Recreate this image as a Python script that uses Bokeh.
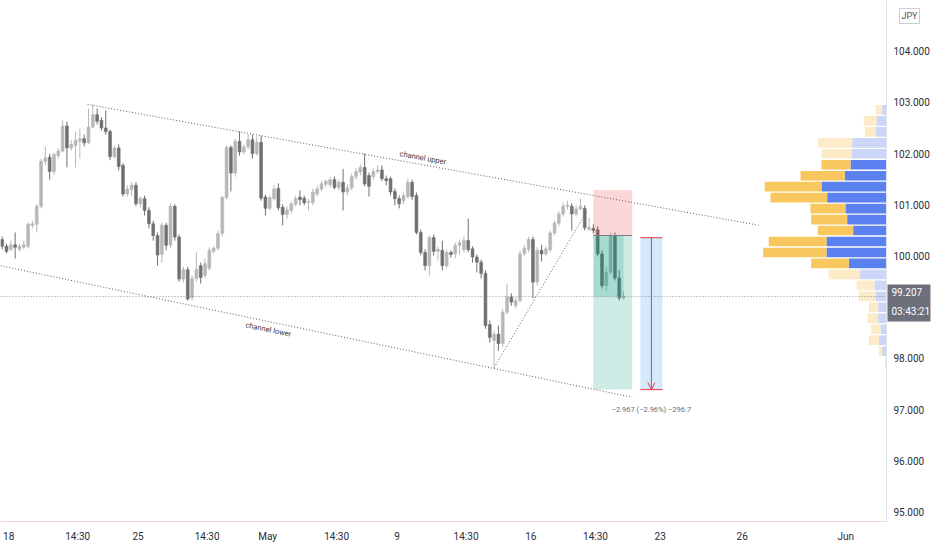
import math
from bokeh.plotting import figure
from bokeh.models import (FixedTicker, PrintfTickFormatter, Arrow, OpenHead,
                          ColumnDataSource, Range1d)
from bokeh.core.properties import value
from bokeh.embed import file_html
from bokeh.resources import INLINE

# ---------------- data (4H candles, bar index 0..144) ----------------
opens = [100.32, 100.19, 100.13, 100.22, 100.13, 100.17, 100.19, 100.60, 100.62, 100.97,
         101.85, 101.93, 101.65, 101.96, 102.05, 102.54, 102.11, 102.16, 102.24, 102.29,
         102.21, 102.52, 102.76, 102.65, 102.50, 102.43, 101.94, 102.11, 101.77, 101.21,
         101.30, 101.38, 101.02, 101.12, 100.89, 100.63, 100.40, 100.03, 100.60, 100.21,
         100.97, 100.37, 99.55, 99.73, 99.19, 99.56, 99.81, 99.62, 99.76, 100.09,
         100.15, 100.44, 101.14, 102.12, 101.62, 102.24, 102.03, 102.13, 102.27, 102.00,
         102.22, 101.15, 100.93, 101.12, 101.32, 100.95, 100.81, 100.89, 101.01, 101.15,
         101.13, 101.04, 101.04, 101.21, 101.31, 101.40, 101.39, 101.49, 101.34, 101.44,
         101.25, 101.33, 101.55, 101.64, 101.73, 101.57, 101.55, 101.65, 101.68, 101.51,
         101.51, 101.26, 101.12, 101.08, 101.16, 101.44, 101.18, 100.46, 100.07, 99.81,
         100.36, 100.09, 100.11, 99.81, 100.07, 100.04, 100.21, 100.13, 100.30, 100.14,
         99.98, 99.88, 99.66, 98.66, 98.35, 98.47, 98.29, 98.90, 99.20, 99.03,
         99.13, 100.05, 100.13, 100.32, 99.49, 100.11, 100.04, 100.12, 100.45, 100.64,
         100.82, 100.97, 100.97, 100.82, 100.92, 100.93, 100.52, 100.54, 100.51, 100.04,
         99.42, 99.68, 100.40, 99.57, 99.18]
highs = [100.38, 100.24, 100.30, 100.46, 100.24, 100.30, 100.65, 100.69, 101.01, 101.90,
         102.14, 102.00, 102.02, 102.10, 102.65, 102.63, 102.26, 102.43, 102.49, 102.37,
         102.88, 102.96, 102.88, 102.71, 102.84, 102.47, 102.16, 102.18, 101.81, 101.38,
         101.44, 101.44, 101.16, 101.18, 100.95, 100.69, 100.46, 100.65, 100.65, 101.03,
         101.01, 100.42, 99.79, 99.79, 99.62, 100.07, 99.87, 99.95, 100.17, 100.19,
         100.50, 101.18, 102.16, 102.16, 102.29, 102.43, 102.18, 102.37, 102.37, 102.34,
         102.35, 101.20, 101.18, 101.38, 101.42, 101.01, 100.97, 101.06, 101.18, 101.28,
         101.18, 101.12, 101.32, 101.38, 101.46, 101.49, 101.55, 101.55, 101.49, 101.70,
         101.40, 101.61, 101.71, 101.79, 102.00, 101.63, 101.71, 101.77, 101.77, 101.57,
         101.55, 101.32, 101.18, 101.24, 101.51, 101.49, 101.24, 100.52, 100.13, 100.40,
         100.42, 100.19, 100.30, 100.13, 100.11, 100.26, 100.32, 100.38, 100.73, 100.19,
         100.03, 99.93, 99.72, 98.74, 98.54, 98.64, 98.97, 99.46, 99.27, 99.19,
         100.11, 100.22, 100.38, 100.38, 100.17, 100.22, 100.19, 100.50, 100.69, 100.87,
         101.04, 101.08, 101.03, 100.99, 101.12, 100.99, 100.75, 100.62, 100.58, 100.11,
         99.79, 100.46, 100.46, 99.72, 99.31]
lows = [100.13, 100.05, 100.09, 99.95, 100.09, 100.13, 100.15, 100.54, 100.46, 100.93,
        101.77, 101.49, 101.59, 101.90, 102.02, 101.73, 102.06, 101.73, 101.90, 102.14,
        102.18, 102.49, 102.57, 102.45, 102.37, 101.87, 101.90, 101.67, 101.16, 101.16,
        101.18, 100.97, 100.95, 100.79, 100.54, 100.30, 99.81, 99.87, 100.11, 100.15,
        100.30, 99.50, 99.48, 99.13, 99.13, 99.50, 99.46, 99.56, 99.72, 100.05,
        100.11, 100.38, 101.10, 101.26, 101.55, 101.96, 101.98, 102.08, 101.90, 101.96,
        101.08, 100.79, 100.89, 101.08, 100.89, 100.60, 100.73, 100.83, 100.97, 100.99,
        100.99, 100.89, 100.99, 101.16, 101.26, 101.34, 101.34, 101.30, 101.28, 100.89,
        101.18, 101.28, 101.49, 101.57, 101.36, 101.16, 101.49, 101.61, 101.46, 101.38,
        101.18, 100.99, 100.93, 101.01, 101.12, 101.10, 100.42, 100.01, 99.72, 99.62,
        100.01, 99.91, 99.72, 99.76, 99.97, 99.95, 100.03, 100.07, 100.07, 99.87,
        99.68, 99.56, 98.58, 98.31, 97.82, 98.15, 98.23, 98.86, 99.03, 98.97,
        99.09, 99.99, 100.07, 99.17, 99.42, 99.89, 99.99, 100.07, 100.40, 100.58,
        100.77, 100.91, 100.50, 100.77, 100.89, 100.50, 100.48, 100.44, 99.99, 99.37,
        99.31, 99.64, 99.52, 99.13, 99.15]
closes = [100.19, 100.09, 100.22, 100.17, 100.19, 100.22, 100.62, 100.63, 100.97, 101.85,
          101.92, 101.65, 101.98, 102.05, 102.54, 102.11, 102.18, 102.26, 102.29, 102.21,
          102.52, 102.76, 102.63, 102.50, 102.43, 101.94, 102.11, 101.75, 101.21, 101.31,
          101.38, 101.02, 101.12, 100.89, 100.63, 100.40, 100.02, 100.60, 100.21, 100.97,
          100.37, 99.55, 99.73, 99.16, 99.56, 99.74, 99.58, 99.85, 100.11, 100.15,
          100.44, 101.14, 102.12, 101.62, 102.24, 102.03, 102.13, 102.27, 102.00, 102.22,
          101.13, 100.93, 101.14, 101.31, 100.94, 100.81, 100.90, 101.02, 101.12, 101.10,
          101.04, 101.06, 101.25, 101.31, 101.41, 101.46, 101.49, 101.34, 101.44, 101.25,
          101.33, 101.55, 101.65, 101.73, 101.41, 101.36, 101.65, 101.68, 101.51, 101.47,
          101.25, 101.12, 101.02, 101.18, 101.44, 101.16, 100.46, 100.07, 99.81, 100.36,
          100.09, 100.13, 99.81, 100.07, 100.03, 100.21, 100.26, 100.30, 100.12, 99.98,
          99.88, 99.66, 98.64, 98.41, 98.47, 98.29, 98.90, 99.20, 99.10, 99.13,
          100.04, 100.15, 100.32, 99.49, 100.11, 100.04, 100.14, 100.45, 100.64, 100.82,
          100.97, 100.99, 100.82, 100.92, 100.97, 100.55, 100.56, 100.50, 100.04, 99.42,
          99.68, 100.40, 99.57, 99.18, 99.207]

last_price = 99.207
countdown = "03:43:21"
currency = "JPY"

# time axis (bar index) labels
time_ticks = [1.5, 17.5, 31.5, 47.5, 61.5, 77.5, 91.5, 107.5, 122.5, 137.5, 152.5, 171.5, 195.5]
time_labels = ["18", "14:30", "25", "14:30", "May", "14:30", "9", "14:30", "16", "14:30", "23", "26", "Jun"]
price_ticks = [95, 96, 97, 98, 100, 101, 102, 103, 104]

# drawings: (bar, price) anchors
channel_upper_t = [19.8, 175.3]
channel_upper_p = [102.96, 100.60]
channel_lower_t = [-0.4, 146.0]
channel_lower_p = [99.81, 97.24]
trend_t = [114.0, 135.6]
trend_p = [97.82, 100.89]
channel_label_text = ["channel upper", "channel lower"]
channel_label_t = [97.5, 61.7]

# short position tool
pos_t = [137.0, 146.0]
pos_entry, pos_stop, pos_target = 100.40, 101.29, 97.39
pos_current_bar = 144

# price range measure
meas_t = [147.9, 153.0]
meas_top, meas_bottom = 100.357, 97.39
meas_text = "\u22122.967 (\u22122.96%) \u2212296.7"

# volume profile, 24 rows bottom -> top (up = blue, down = yellow)
vp_up = [1, 4.3, 7.7, 6, 8.3, 8.3, 11, 12, 26.7, 37.7, 60, 60, 33.3, 39.3, 41, 59.3,
         65, 41.7, 36, 35, 34.3, 11, 10, 4.3]
vp_down = [0, 3.4, 10, 9.3, 11, 9.4, 16.7, 18, 31, 37.6, 63.3, 57.7, 35.4, 36, 35, 56.7,
           56.7, 44.3, 29, 30, 34, 10.7, 12.7, 6.7]
vp_value_area = [False] * 9 + [True] * 10 + [False] * 5

# ---------------- layout / styling ----------------
FRAME_W, FRAME_H = 932, 521          # price scale lives inside the frame (right strip)
BOTTOM = 29
PX_PER_BAR = 4.315
X0 = -0.394                          # bar position at the left edge
X_AXIS = 204.93                      # bar position of the price-scale border
X_END = X0 + FRAME_W / PX_PER_BAR
Y0, Y1 = 94.814, 104.990
PX_PER_PRICE = FRAME_H / (Y1 - Y0)
FONT = "Roboto"
UP_C, DN_C = "#b7b7b7", "#707070"
TXT = "#2a2e39"


def dpx(px):      # screen px -> price units
    return px / PX_PER_PRICE


def bpx(px):      # screen px -> bar units
    return px / PX_PER_BAR


p = figure(frame_width=FRAME_W, frame_height=FRAME_H,
           x_range=Range1d(X0, X_END), y_range=Range1d(Y0, Y1),
           output_backend="svg", toolbar_location=None,
           x_axis_location="below", y_axis_location="right",
           min_border_left=0, min_border_right=0,
           min_border_top=0, min_border_bottom=BOTTOM)
p.outline_line_color = None
p.xgrid.grid_line_color = None
p.ygrid.grid_line_color = None
p.background_fill_color = "white"
p.border_fill_color = "white"

xa = p.xaxis[0]
xa.ticker = FixedTicker(ticks=time_ticks)
xa.major_label_overrides = dict(zip(time_ticks, time_labels))
xa.bounds = (X0, X_AXIS)
xa.major_tick_line_color = None
xa.minor_tick_line_color = None
xa.major_tick_out = 0
xa.major_tick_in = 0
xa.minor_tick_out = 0
xa.axis_line_color = "#f6d5d9"
xa.major_label_standoff = 9
xa.major_label_text_font = FONT
xa.major_label_text_font_size = "10px"
xa.major_label_text_color = TXT

ya = p.yaxis[0]
ya.fixed_location = X_AXIS
ya.ticker = FixedTicker(ticks=price_ticks)
ya.formatter = PrintfTickFormatter(format="%.3f")
ya.major_tick_line_color = None
ya.minor_tick_line_color = None
ya.major_tick_out = 0
ya.major_tick_in = 0
ya.minor_tick_out = 0
ya.axis_line_color = "#e0e3eb"
ya.major_label_standoff = 7
ya.major_label_text_font = FONT
ya.major_label_text_font_size = "10px"
ya.major_label_text_color = TXT

# ---------------- candles ----------------
n = len(opens)
idx = list(range(n))
colors = [UP_C if c >= o else DN_C for o, c in zip(opens, closes)]
src = ColumnDataSource(dict(
    x=idx, o=opens, h=highs, l=lows, c=closes,
    top=[max(o, c) for o, c in zip(opens, closes)],
    bottom=[min(o, c) for o, c in zip(opens, closes)],
    color=colors))
p.segment(x0="x", y0="l", x1="x", y1="h", line_color="color", line_width=1, source=src)
p.vbar(x="x", width=0.66, top="top", bottom="bottom", fill_color="color",
       line_color="color", line_width=0.6, source=src)

# ---------------- short position tool ----------------
p.quad(left=[pos_t[0]], right=[pos_t[1]], bottom=[pos_entry], top=[pos_stop],
       fill_color="#f23645", fill_alpha=0.2, line_color=None)
p.quad(left=[pos_t[0]], right=[pos_t[1]], bottom=[pos_target], top=[pos_entry],
       fill_color="#089981", fill_alpha=0.2, line_color=None)
p.quad(left=[pos_t[0]], right=[pos_current_bar], bottom=[last_price], top=[pos_entry],
       fill_color="#089981", fill_alpha=0.2, line_color=None)
p.segment(x0=[pos_t[0]], y0=[pos_entry], x1=[pos_t[1]], y1=[pos_entry],
          line_color="#787b86", line_width=1)

# ---------------- measure tool ----------------
m_mid = (meas_t[0] + meas_t[1]) / 2
p.quad(left=[meas_t[0]], right=[meas_t[1]], bottom=[meas_bottom], top=[meas_top],
       fill_color="#2196f3", fill_alpha=0.2, line_color=None)
p.segment(x0=[meas_t[0], meas_t[0]], y0=[meas_top, meas_bottom],
          x1=[meas_t[1], meas_t[1]], y1=[meas_top, meas_bottom],
          line_color="#f23645", line_width=1)
p.add_layout(Arrow(end=OpenHead(size=7, line_color="#f23645", line_width=1),
                   x_start=m_mid, y_start=meas_top, x_end=m_mid, y_end=meas_bottom,
                   line_color="#f23645", line_width=1))
p.text(x=[m_mid], y=[meas_bottom - dpx(20)], text=[meas_text],
       text_font=value(FONT), text_font_size="7.5px", text_color="#6a6d78",
       text_align="center", text_baseline="middle")

# ---------------- channel & trend lines ----------------
DOT = "#5d5d5d"
p.line(channel_upper_t, channel_upper_p, line_color=DOT, line_dash="1 2", line_width=1)
p.line(channel_lower_t, channel_lower_p, line_color=DOT, line_dash="1 2", line_width=1)
p.line(trend_t, trend_p, line_color=DOT, line_dash="1 2", line_width=1)


def line_at(ts, ps, t):
    return ps[0] + (ps[1] - ps[0]) * (t - ts[0]) / (ts[1] - ts[0])


def screen_angle(ts, ps):
    return math.atan2((ps[1] - ps[0]) * PX_PER_PRICE, (ts[1] - ts[0]) * PX_PER_BAR)


lab_x = channel_label_t
lab_y = [line_at(channel_upper_t, channel_upper_p, lab_x[0]) + dpx(7),
         line_at(channel_lower_t, channel_lower_p, lab_x[1]) - dpx(8)]
lab_a = [screen_angle(channel_upper_t, channel_upper_p),
         screen_angle(channel_lower_t, channel_lower_p)]
p.text(x=lab_x, y=lab_y, text=channel_label_text, angle=lab_a,
       text_font=value(FONT), text_font_size="7.5px", text_color="#3c3c3c",
       text_align="center", text_baseline="middle")

# ---------------- volume profile ----------------
rows = len(vp_up)
vlo, vhi = min(lows), max(highs)
rh = (vhi - vlo) / rows
centers = [vlo + (i + 0.5) * rh for i in range(rows)]
blue_left = [X_AXIS - bpx(u) for u in vp_up]
yel_left = [bl - bpx(d) for bl, d in zip(blue_left, vp_down)]
blue_c = ["#5b80f0" if va else "#cbd6f8" for va in vp_value_area]
yel_c = ["#f8c85e" if va else "#fcebc6" for va in vp_value_area]
p.hbar(y=centers, height=rh * 0.88, left=blue_left, right=[X_AXIS] * rows,
       fill_color=blue_c, line_color=None)
p.hbar(y=centers, height=rh * 0.88, left=yel_left, right=blue_left,
       fill_color=yel_c, line_color=None)

# ---------------- last price line ----------------
p.segment(x0=[X0], y0=[last_price], x1=[X_AXIS], y1=[last_price],
          line_color="#8a8d96", line_dash="1 2", line_width=1)

# ---------------- price scale extras (last price box, currency) ----------------
p.quad(left=[X_AXIS + bpx(1)], right=[X_AXIS + bpx(44)], top=[last_price + dpx(12)],
       bottom=[last_price - dpx(25)], fill_color="#6d707b", line_color=None)
p.text(x=[X_AXIS + bpx(5), X_AXIS + bpx(5)],
       y=[last_price + dpx(5), last_price - dpx(15)],
       text=["%.3f" % last_price, countdown],
       text_font=value(FONT), text_font_size="10px", text_color="white",
       text_align="left", text_baseline="middle")
p.quad(left=[X_AXIS + bpx(13)], right=[X_AXIS + bpx(33)], top=[Y1 - dpx(8)],
       bottom=[Y1 - dpx(23)], fill_color="white", line_color="#c9ccd4", line_width=1)
p.text(x=[X_AXIS + bpx(23)], y=[Y1 - dpx(15.5)], text=[currency],
       text_font=value(FONT), text_font_size="9px", text_color="#50535e",
       text_align="center", text_baseline="middle")

open("out.html", "w").write(file_html(p, INLINE))
